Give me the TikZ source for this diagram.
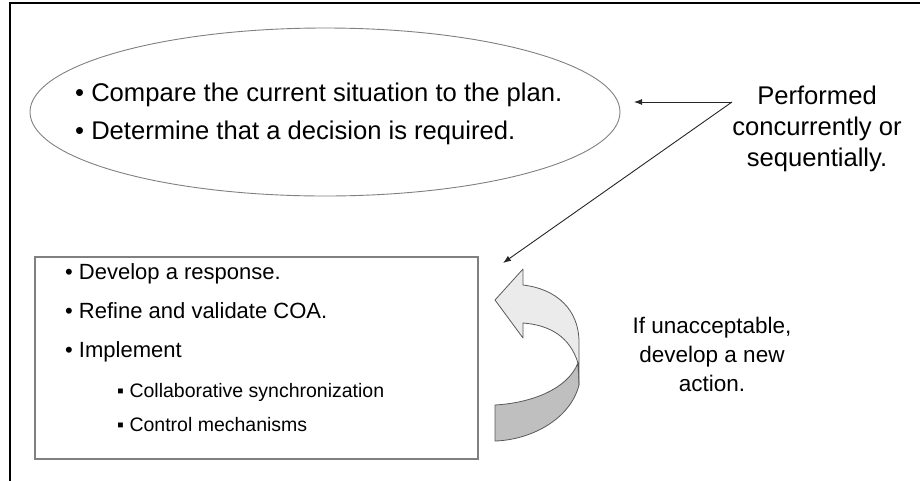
\documentclass[tikz,border=0pt]{standalone}
\usepackage{fontspec}
\setmainfont{Liberation Sans}
\usetikzlibrary{shapes.geometric,arrows.meta}
\definecolor{lightband}{HTML}{EBEBEB}
\definecolor{darkband}{HTML}{BFBFBF}
\definecolor{edgegray}{HTML}{808080}
\begin{document}
\begin{tikzpicture}[x=1pt,y=-1pt,
  bigtxt/.style={font=\fontsize{25.6}{30}\selectfont, inner sep=0, anchor=base west},
  boxtxt/.style={font=\fontsize{22}{26}\selectfont, inner sep=0, anchor=base west},
  subtxt/.style={font=\fontsize{19.5}{23}\selectfont, inner sep=0, anchor=base west},
  notebig/.style={font=\fontsize{25.6}{30}\selectfont, inner sep=0, anchor=base},
  notemid/.style={font=\fontsize{22.5}{27}\selectfont, inner sep=0, anchor=base},
  conn/.style={draw=black!85, line width=0.9, -{Latex[length=8,width=6]}},
  band/.style={draw=black!65, line width=0.8, line join=round}
]
\useasboundingbox (0,0) rectangle (920,480);
% outer frame (cropped at right and bottom)
\draw[line width=2.2] (10,490) -- (10,3) -- (930,3);

% ellipse
\node[ellipse, draw=edgegray, line width=0.9, minimum width=590, minimum height=168, inner sep=0] (ell) at (325,112) {};
\node[bigtxt] (e1) at (75,101) {• Compare the current situation to the plan.};
\node[bigtxt] (e2) at (75,139) {• Determine that a decision is required.};

% box
\node[draw=edgegray, line width=1.3, minimum width=443, minimum height=202, inner sep=0] (box) at (256.5,358) {};
\node[boxtxt] (b1) at (65,279) {• Develop a response.};
\node[boxtxt] (b2) at (65,318) {• Refine and validate COA.};
\node[boxtxt] (b3) at (65,357) {• Implement};
\node[subtxt] (s1) at (117,397) {▪ Collaborative synchronization};
\node[subtxt] (s2) at (117,431) {▪ Control mechanisms};

% right notes
\node[notebig] (p1) at (817,104) {Performed};
\node[notebig] (p2) at (817,135) {concurrently or};
\node[notebig] (p3) at (817,166) {sequentially.};
\node[notemid] (u1) at (712,333) {If unacceptable,};
\node[notemid] (u2) at (712,362) {develop a new};
\node[notemid] (u3) at (712,391) {action.};

% connectors
\coordinate (src) at (732,102);
\coordinate (tEll) at (634,102);
\coordinate (tBox) at (503,263);
\draw[conn] (src) -- (tEll);
\draw[conn] (src) -- (tBox);

% curved arrow: dark back part
\path[band, fill=darkband] (495,405) .. controls (530,403) and (567,390) .. (578,363)
  -- (579,385) .. controls (570,420) and (530,440) .. (495,441) -- cycle;
% curved arrow: light front part with head
\path[band, fill=lightband] (523,285) .. controls (557,289) and (579,310) .. (579,342)
  -- (579,385) .. controls (579,375) and (578,368) .. (578,363)
  .. controls (570,337) and (550,325) .. (523,323)
  -- (523,338) -- (495,300) -- (523,269) -- cycle;
\end{tikzpicture}
\end{document}
